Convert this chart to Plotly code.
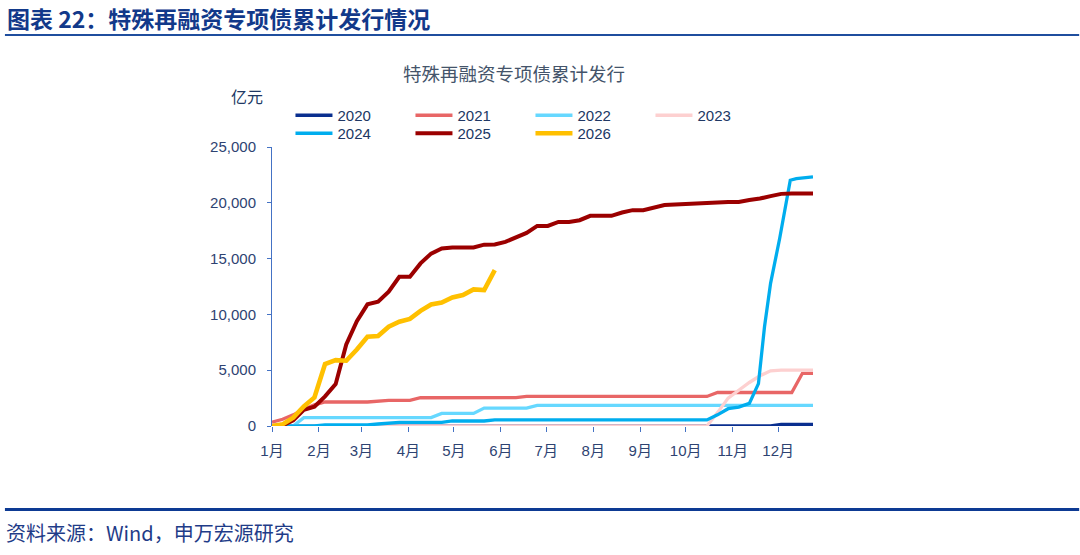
import pandas as pd
import plotly.graph_objects as go

# ---------------- data (x = days after 1 Jan, y = cumulative issuance, 亿元) ----------------
BASE = pd.Timestamp("2025-01-01")
months = ["1月", "2月", "3月", "4月", "5月", "6月", "7月", "8月", "9月", "10月", "11月", "12月"]
yticks = [0, 5000, 10000, 15000, 20000, 25000]

d2020 = [0, 329, 336, 357]
v2020 = [0, 0, 150, 150]

d2021 = [0, 7, 14, 21, 28, 35, 63, 70, 77, 91, 98, 161, 168, 287, 294, 343, 350, 357]
v2021 = [350, 600, 1000, 1500, 1900, 2150, 2150, 2200, 2300, 2300, 2530, 2550, 2650, 2650, 3000, 3000, 4720, 4720]

d2022 = [0, 14, 21, 105, 112, 133, 140, 168, 175, 357]
v2022 = [0, 0, 750, 750, 1130, 1130, 1600, 1600, 1850, 1850]

d2023 = [0, 287, 294, 301, 308, 315, 322, 329, 336, 357]
v2023 = [0, 0, 1200, 2500, 3200, 3900, 4500, 4950, 5010, 5010]

d2024 = [0, 28, 35, 63, 70, 77, 84, 112, 119, 140, 147, 287, 294, 301, 308, 315, 321, 325, 329, 335, 342, 346, 357]
v2024 = [0, 0, 90, 90, 180, 250, 330, 330, 450, 450, 540, 540, 1000, 1550, 1700, 2030, 3800, 8890, 12780, 16800, 22020, 22170, 22320]

d2025 = [0, 7, 14, 21, 28, 35, 42, 49, 56, 63, 70, 77, 84, 91, 98, 105, 112, 119, 126, 133, 140, 147,
         154, 161, 168, 175, 182, 189, 196, 203, 210, 217, 224, 231, 238, 245, 252, 259, 266, 273, 280,
         287, 294, 301, 308, 315, 322, 329, 336, 343, 350, 357]
v2025 = [0, 50, 500, 1450, 1730, 2650, 3750, 7300, 9400, 10900, 11130, 12030, 13370, 13370, 14570, 15450,
         15900, 16000, 16000, 16000, 16250, 16270, 16500, 16900, 17300, 17930, 17930, 18290, 18290, 18440,
         18830, 18830, 18830, 19130, 19340, 19340, 19600, 19800, 19850, 19880, 19900, 19980, 20030, 20080,
         20080, 20250, 20380, 20600, 20800, 20830, 20830, 20830]

d2026 = [0, 7, 14, 21, 28, 35, 42, 49, 56, 63, 70, 77, 84, 91, 98, 105, 112, 119, 126, 133, 140, 147]
v2026 = [0, 150, 750, 1750, 2550, 5550, 5900, 5850, 6850, 8000, 8060, 8890, 9340, 9600, 10320, 10890,
         11070, 11520, 11730, 12240, 12180, 13970]

series = [
    ("2020", d2020, v2020, "#0a2f8f", 3.3, "legend"),
    ("2021", d2021, v2021, "#e86666", 3.3, "legend"),
    ("2022", d2022, v2022, "#66d8ff", 3.3, "legend"),
    ("2023", d2023, v2023, "#fdd0d0", 3.3, "legend"),
    ("2024", d2024, v2024, "#00adee", 3.3, "legend2"),
    ("2025", d2025, v2025, "#9b0000", 4.0, "legend2"),
    ("2026", d2026, v2026, "#ffc000", 4.6, "legend2"),
]

# ---------------- layout helpers ----------------
W, H = 1080, 555
L, R, T, B = 271.5, 813.4, 147, 426


def px(x):
    return (x - L) / (R - L)


def py(y):
    return (B - y) / (B - T)


FONT = "Liberation Sans, Arial, Noto Sans CJK SC, sans-serif"
CJK = "Noto Sans CJK SC, Microsoft YaHei, sans-serif"

fig = go.Figure()
for name, dd, vv, color, lw, lg in series:
    fig.add_trace(go.Scatter(
        x=[BASE + pd.Timedelta(days=d) for d in dd], y=vv, name=name, mode="lines",
        line=dict(color=color, width=lw), legend=lg, cliponaxis=False, hoverinfo="skip",
    ))

tickvals = [pd.Timestamp(2025, m, 1) for m in range(1, 13)]

legend_common = dict(orientation="h", x=px(290), xanchor="left", yanchor="top",
                     entrywidth=68, entrywidthmode="pixels", itemwidth=37,
                     font=dict(size=15, color="#203864", family=FONT), bgcolor="rgba(0,0,0,0)",
                     borderwidth=0, traceorder="normal")

fig.update_layout(
    width=W, height=H,
    margin=dict(l=L, r=W - R, t=T, b=H - B, pad=0),
    paper_bgcolor="white", plot_bgcolor="white",
    font=dict(family=FONT, color="#2e4372"),
    showlegend=True,
    legend=dict(legend_common, y=py(99)),
    legend2=dict(legend_common, y=py(117)),
    xaxis=dict(type="date", range=[BASE, BASE + pd.Timedelta(days=357)],
               tickvals=tickvals, ticktext=months, ticks="outside", ticklen=5,
               tickcolor="#4472c4", tickwidth=1, showline=False, showgrid=False, zeroline=False,
               tickfont=dict(size=15, color="#2e4372", family=FONT), ticklabelstandoff=6),
    yaxis=dict(range=[0, 25000], tickvals=yticks, tickformat=",", ticks="outside", ticklen=4,
               tickcolor="#4472c4", tickwidth=1, showline=True, linecolor="#4472c4", linewidth=1,
               showgrid=False, zeroline=False,
               tickfont=dict(size=15, color="#2e4372", family=FONT), ticklabelstandoff=8),
)

annotations = [
    dict(text="<b>图表 22：特殊再融资专项债累计发行情况</b>", x=px(4), y=py(18), xanchor="left",
         yanchor="middle", font=dict(size=23, color="#12398a", family=CJK)),
    dict(text="特殊再融资专项债累计发行", x=px(514), y=py(73), xanchor="center", yanchor="middle",
         font=dict(size=18.5, color="#44546a", family=CJK)),
    dict(text="亿元", x=px(246), y=py(96), xanchor="center", yanchor="middle",
         font=dict(size=16, color="#203864", family=CJK)),
    dict(text="资料来源：Wind，申万宏源研究", x=px(3), y=py(532), xanchor="left", yanchor="middle",
         font=dict(size=20, color="#1f3c88", family="Noto Sans CJK SC, Liberation Sans, sans-serif")),
]
for a in annotations:
    a.update(xref="paper", yref="paper", showarrow=False)
fig.update_layout(annotations=annotations)

fig.add_shape(type="line", xref="paper", yref="paper", x0=px(4), x1=px(1080), y0=py(35), y1=py(35),
              line=dict(color="#1f4e9e", width=2))
fig.add_shape(type="line", xref="paper", yref="paper", x0=px(4), x1=px(1080), y0=py(509.5), y1=py(509.5),
              line=dict(color="#0d3a93", width=3))

fig.write_html("out.html", config={"displayModeBar": False})
